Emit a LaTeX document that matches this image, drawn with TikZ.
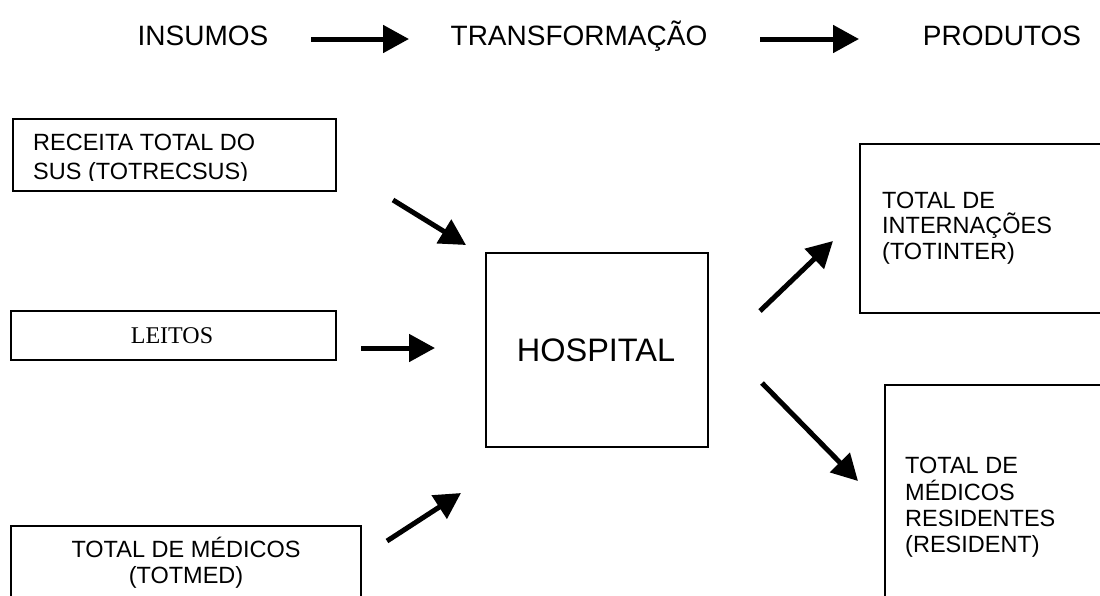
\documentclass[tikz,border=0pt]{standalone}
\usepackage{fontspec}
\setmainfont{Liberation Sans}
\newfontfamily\tnr{Liberation Serif}
\usetikzlibrary{arrows.meta}
\begin{document}
\begin{tikzpicture}[x=1pt,y=-1pt,
 box/.style={draw=black,line width=1.9pt,inner sep=0pt,anchor=north west},
 lbl/.style={inner sep=0pt,anchor=base west,font=\fontsize{23.5}{26}\selectfont},
 clbl/.style={inner sep=0pt,anchor=base,font=\fontsize{23.5}{26}\selectfont},
 ttl/.style={inner sep=0pt,anchor=base,font=\fontsize{28}{32}\selectfont},
 arr/.style={line width=5pt,-{Triangle[length=26pt,width=27pt]}}]
\useasboundingbox (0,0) rectangle (1100,595);
\clip (0,0) rectangle (1100,595);
\fill[white] (0,0) rectangle (1100,595);

% titles
\node[ttl] (tin) at (203,45) {INSUMOS};
\node[ttl] (ttr) at (579,45) {TRANSFORMAÇÃO};
\node[ttl] (tpr) at (1002,45) {PRODUTOS};
\coordinate (t1s) at (311,39); \coordinate (t1e) at (409,39);
\coordinate (t2s) at (760,39); \coordinate (t2e) at (859,39);
\draw[arr] (t1s) -- (t1e);
\draw[arr] (t2s) -- (t2e);

% boxes
\node[box,minimum width=323,minimum height=72] (b1) at (12,118) {};
\node[box,minimum width=325,minimum height=49] (b2) at (10,310) {};
\node[box,minimum width=350,minimum height=110] (b3) at (10,525) {};
\node[box,minimum width=222,minimum height=194] (hosp) at (485,252) {};
\node[box,minimum width=260,minimum height=169] (r1) at (859,143) {};
\node[box,minimum width=260,minimum height=260] (r2) at (884,384) {};

% box texts
\begin{scope}
\clip (12,118) rectangle (335,180.5);
\node[lbl] (b1l1) at (33,150) {RECEITA TOTAL DO};
\node[lbl] (b1l2) at (33,179) {SUS (TOTRECSUS)};
\end{scope}
\node[inner sep=0pt,anchor=base,font=\tnr\fontsize{24}{26}\selectfont] (b2l) at (172,343) {LEITOS};
\node[clbl] (b3l1) at (186,557) {TOTAL DE MÉDICOS};
\node[clbl] (b3l2) at (186,583) {(TOTMED)};
\node[inner sep=0pt,anchor=base,font=\fontsize{32.5}{36}\selectfont] (hl) at (596,361) {HOSPITAL};
\node[lbl] (r1l1) at (882,208) {TOTAL DE};
\node[lbl] (r1l2) at (882,233.5) {INTERNAÇÕES};
\node[lbl] (r1l3) at (882,259) {(TOTINTER)};
\node[lbl] (r2l1) at (905,473.5) {TOTAL DE};
\node[lbl] (r2l2) at (905,500) {MÉDICOS};
\node[lbl] (r2l3) at (905,526) {RESIDENTES};
\node[lbl] (r2l4) at (905,552) {(RESIDENT)};

% arrows
\coordinate (a1s) at (393,200); \coordinate (a1e) at (466,245);
\coordinate (a2s) at (361,348); \coordinate (a2e) at (435,348);
\coordinate (a3s) at (387,541); \coordinate (a3e) at (461,493);
\coordinate (a4s) at (760,311); \coordinate (a4e) at (833,241);
\coordinate (a5s) at (762,383); \coordinate (a5e) at (858,481);
\draw[arr] (a1s) -- (a1e);
\draw[arr] (a2s) -- (a2e);
\draw[arr] (a3s) -- (a3e);
\draw[arr] (a4s) -- (a4e);
\draw[arr] (a5s) -- (a5e);
\end{tikzpicture}
\end{document}
